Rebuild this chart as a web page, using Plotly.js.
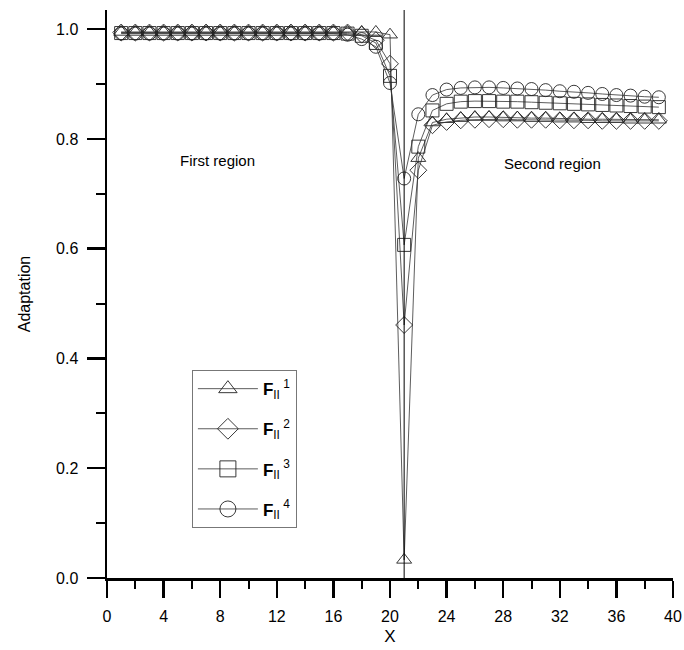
<!DOCTYPE html>
<html>
<head>
<meta charset="utf-8">
<script src="https://cdn.plot.ly/plotly-3.0.1.min.js"></script>
<style>html,body{margin:0;padding:0;background:#fff;}#chart{width:684px;height:650px;}</style>
</head>
<body>
<div id="chart"></div>
<script>
var xValues = [1,2,3,4,5,6,7,8,9,10,11,12,13,14,15,16,17,18,19,20,21,22,23,24,25,26,27,28,29,30,31,32,33,34,35,36,37,38,39];

var seriesF1 = [0.995,0.995,0.995,0.995,0.995,0.995,0.995,0.995,0.995,0.995,0.995,0.995,0.995,0.995,0.995,0.995,0.995,0.995,0.995,0.990,0.033,0.765,0.830,0.836,0.838,0.840,0.840,0.839,0.839,0.838,0.838,0.837,0.837,0.836,0.836,0.836,0.835,0.835,0.835];
var seriesF2 = [0.994,0.994,0.994,0.994,0.994,0.994,0.994,0.994,0.994,0.994,0.994,0.994,0.994,0.994,0.994,0.994,0.994,0.990,0.980,0.937,0.461,0.743,0.825,0.831,0.834,0.835,0.836,0.836,0.835,0.835,0.835,0.834,0.834,0.834,0.833,0.833,0.833,0.833,0.833];
var seriesF3 = [0.993,0.993,0.993,0.993,0.993,0.993,0.993,0.993,0.993,0.993,0.993,0.993,0.993,0.993,0.993,0.993,0.992,0.988,0.975,0.915,0.607,0.786,0.852,0.864,0.868,0.869,0.869,0.868,0.868,0.867,0.866,0.865,0.864,0.863,0.862,0.861,0.860,0.859,0.858];
var seriesF4 = [0.992,0.992,0.992,0.992,0.992,0.992,0.992,0.992,0.992,0.992,0.992,0.992,0.992,0.992,0.992,0.992,0.990,0.982,0.968,0.902,0.728,0.845,0.880,0.890,0.893,0.894,0.894,0.893,0.892,0.891,0.889,0.887,0.886,0.884,0.882,0.880,0.879,0.877,0.876];

var seriesNames = ['<b>F</b><sub>II</sub><sup> 1</sup>','<b>F</b><sub>II</sub><sup> 2</sup>','<b>F</b><sub>II</sub><sup> 3</sup>','<b>F</b><sub>II</sub><sup> 4</sup>'];
var seriesSymbols = ['triangle-up-open','diamond-open','square-open','circle-open'];
var seriesData = [seriesF1, seriesF2, seriesF3, seriesF4];

var xTickVals = [0,4,8,12,16,20,24,28,32,36,40];
var yTickVals = [0,0.2,0.4,0.6,0.8,1.0];
var yTickText = ['0.0','0.2','0.4','0.6','0.8','1.0'];
var boundaryX = 21;
var regionLabels = [{text:'First region', x:7.8, y:0.761},{text:'Second region', x:31.5, y:0.756}];

var font = 'Liberation Sans, Arial, sans-serif';
var traces = [];
seriesData.forEach(function(ys, i){
  traces.push({
    x: xValues, y: ys, type: 'scatter', mode: 'lines+markers',
    name: seriesNames[i], showlegend: false,
    line: {color: '#333', width: 0.8},
    marker: {symbol: seriesSymbols[i], size: 13, color: '#222', line: {width: 0.9}},
    cliponaxis: false
  });
});
seriesData.forEach(function(ys, i){
  traces.push({
    x: [null], y: [null], type: 'scatter', mode: 'lines+markers',
    name: seriesNames[i], legendgroup: 'g'+i, showlegend: true,
    line: {color: '#333', width: 0.8},
    marker: {symbol: seriesSymbols[i], size: 22, color: '#222', line: {width: 0.9}}
  });
});

var layout = {
  width: 684, height: 650,
  margin: {l: 107, r: 11, t: 10, b: 72},
  paper_bgcolor: '#fff', plot_bgcolor: '#fff',
  font: {family: font, color: '#000', size: 15},
  showlegend: true,
  legend: {
    x: 0.150, y: 0.366, xanchor: 'left', yanchor: 'top',
    bgcolor: '#fff', bordercolor: '#777', borderwidth: 1,
    font: {family: font, size: 17, color: '#000'},
    tracegroupgap: 15, itemwidth: 60, itemsizing: 'trace', entrywidth: 65
  },
  xaxis: {
    range: [0, 40], tickvals: xTickVals, ticks: 'outside', ticklen: 17, tickwidth: 2.5, tickcolor: '#000',
    showline: true, linewidth: 2.5, linecolor: '#000', showgrid: false, zeroline: false,
    tickfont: {size: 16}, ticklabelstandoff: 5,
    minor: {dtick: 2, ticks: 'outside', ticklen: 8, tickwidth: 2, tickcolor: '#000', showgrid: false},
    title: {text: 'X', font: {size: 17}, standoff: 7}
  },
  yaxis: {
    range: [0, 1.035], tickvals: yTickVals, ticktext: yTickText, ticks: 'outside', ticklen: 18, tickwidth: 2.5, tickcolor: '#000',
    showline: true, linewidth: 2.5, linecolor: '#000', showgrid: false, zeroline: false,
    tickfont: {size: 16}, ticklabelstandoff: 5,
    minor: {dtick: 0.1, ticks: 'outside', ticklen: 9, tickwidth: 2, tickcolor: '#000', showgrid: false},
    title: {text: 'Adaptation', font: {size: 16}, standoff: 22}
  },
  shapes: [{type: 'line', xref: 'x', yref: 'paper', x0: boundaryX, x1: boundaryX, y0: 0, y1: 1, line: {color: '#000', width: 1}}],
  annotations: regionLabels.map(function(r){
    return {text: r.text, x: r.x, y: r.y, xref: 'x', yref: 'y', showarrow: false, font: {size: 15, family: font}};
  })
};

Plotly.newPlot('chart', traces, layout, {displayModeBar: false, staticPlot: true});
</script>
</body>
</html>
